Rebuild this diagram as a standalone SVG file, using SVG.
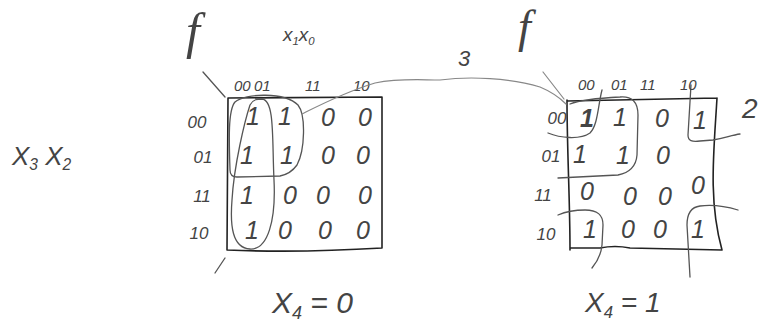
<svg xmlns="http://www.w3.org/2000/svg" width="761" height="331" viewBox="0 0 761 331">
<style>
.t{font-family:"Liberation Sans",Arial,sans-serif;font-style:italic;fill:#444}
.f{font-family:"Liberation Serif","Times New Roman",serif;font-style:italic;fill:#444}
.c{font-size:25px;text-anchor:middle}
.h{font-size:15px}
.r{font-size:17px;text-anchor:middle}
.sub{font-size:0.6em}
.box{fill:none;stroke:#222;stroke-width:1.6;stroke-linecap:round;stroke-linejoin:round}
.loop{fill:none;stroke:#555;stroke-width:1.3;stroke-linecap:round;stroke-linejoin:round}
.conn{fill:none;stroke:#888;stroke-width:1.2;stroke-linecap:round}
</style>
<rect width="761" height="331" fill="#fff"/>

<g id="labels">
<text class="f" x="186" y="48" font-size="50">f</text>
<text class="f" x="518" y="42" font-size="46">f</text>
<text class="t" x="283" y="41" font-size="19">x<tspan class="sub" dy="4">1</tspan><tspan dy="-4">x</tspan><tspan class="sub" dy="4">0</tspan></text>
<text class="t" x="12" y="165" font-size="26">X<tspan class="sub" dy="5">3</tspan><tspan dy="-5"> X</tspan><tspan class="sub" dy="5">2</tspan></text>
<text class="t" x="272" y="313" font-size="30">X<tspan class="sub" dy="6">4</tspan><tspan dy="-6"> = 0</tspan></text>
<text class="t" x="585" y="312" font-size="28">X<tspan class="sub" dy="6">4</tspan><tspan dy="-6"> = 1</tspan></text>
<text class="t" x="458" y="66" font-size="22">3</text>
<text class="t" x="742" y="118" font-size="28">2</text>
</g>

<g id="map-left">
<path class="box" d="M228 98 L382 97 M228 98 L227 250 M382 97 L382 248 M227 250 Q300 253 382 248"/>
<path class="loop" d="M203 72 L225 97 M215 273 L225 258"/>
<path class="loop" d="M262 99 C275 100 272 140 274 180 C276 220 268 250 250 249 C232 248 230 225 232 200 C234 165 245 120 250 105 C253 99 258 99 262 99 Z"/>
<path class="loop" d="M230 170 C229 140 228 110 235 102 C245 93 285 92 298 105 C306 115 305 150 297 165 C292 172 285 175 280 176 L237 177 C232 177 230 174 230 170 Z"/>
<text class="t h" x="234" y="91">00</text>
<text class="t h" x="254" y="91">01</text>
<text class="t h" x="305" y="91">11</text>
<text class="t h" x="353" y="91">10</text>
<text class="t r" x="197" y="128">00</text>
<text class="t r" x="203" y="163">01</text>
<text class="t r" x="202" y="202">11</text>
<text class="t r" x="199" y="239">10</text>
<text class="t c" x="253" y="125">1</text><text class="t c" x="285" y="125">1</text><text class="t c" x="328" y="126">0</text><text class="t c" x="365" y="126">0</text>
<text class="t c" x="247" y="164">1</text><text class="t c" x="287" y="164">1</text><text class="t c" x="328" y="164">0</text><text class="t c" x="363" y="164">0</text>
<text class="t c" x="247" y="204">1</text><text class="t c" x="290" y="204">0</text><text class="t c" x="323" y="204">0</text><text class="t c" x="365" y="204">0</text>
<text class="t c" x="252" y="239">1</text><text class="t c" x="285" y="239">0</text><text class="t c" x="325" y="239">0</text><text class="t c" x="363" y="239">0</text>
</g>

<g id="map-right">
<path class="box" d="M567 101 L717 98 M567 100 C567 150 570 200 570 250 M717 98 C714 150 708 200 722 250 M570 248 L600 248 C610 246 620 246 630 248 L722 250"/>
<path class="loop" d="M558 178 L618 175 C628 173 636 168 637 155 L638 115 C638 102 632 96 620 97 C600 98 580 100 570 104"/>
<path class="loop" d="M548 133 C560 138 580 140 590 133 C598 125 598 105 602 90"/>
<path class="loop" d="M691 85 L688 135 C688 141 692 142 700 141 L713 140 C725 138 732 135 740 134"/>
<path class="loop" d="M558 215 C565 212 575 210 585 210 C598 210 603 215 603 225 L602 245 C601 255 597 262 592 268"/>
<path class="loop" d="M690 277 L687 225 C687 212 692 207 700 206 C715 204 728 207 738 210"/>
<text class="t h" x="578" y="90">00</text>
<text class="t h" x="611" y="90">01</text>
<text class="t h" x="640" y="90">11</text>
<text class="t h" x="680" y="90">10</text>
<text class="t r" x="557" y="124">00</text>
<text class="t r" x="551" y="162">01</text>
<text class="t r" x="543" y="201">11</text>
<text class="t r" x="546" y="240">10</text>
<text class="t c" x="587" y="127" font-weight="bold">1</text><text class="t c" x="620" y="126">1</text><text class="t c" x="662" y="127">0</text><text class="t c" x="700" y="129">1</text>
<text class="t c" x="580" y="163">1</text><text class="t c" x="623" y="164">1</text><text class="t c" x="663" y="164">0</text>
<text class="t c" x="587" y="200">0</text><text class="t c" x="630" y="205">0</text><text class="t c" x="665" y="205">0</text><text class="t c" x="698" y="194" font-size="17">0</text>
<text class="t c" x="590" y="238">1</text><text class="t c" x="628" y="238">0</text><text class="t c" x="660" y="238">0</text><text class="t c" x="698" y="238">1</text>
</g>

<g id="connectors">
<path class="conn" d="M302 114 C320 105 345 92 375 83 C400 78 420 80 440 80 C470 76 510 78 540 87 C552 92 560 98 566 104"/>
<path class="conn" d="M543 72 L564 99"/>
</g>
</svg>
